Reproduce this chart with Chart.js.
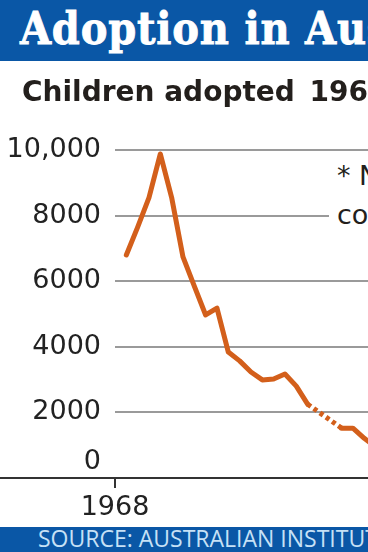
<!DOCTYPE html>
<html><head><meta charset="utf-8">
<script src="https://cdn.jsdelivr.net/npm/chart.js@4.4.1/dist/chart.umd.min.js"></script>
<style>
html,body{margin:0;padding:0;width:368px;height:552px;overflow:hidden;background:#fff;}
#wrap{position:relative;width:368px;height:552px;overflow:hidden;}
#cbox{position:absolute;left:0;top:0;width:368px;height:552px;}
.hdr{position:absolute;left:0;top:0;width:368px;height:61px;background:#0a57a6;overflow:hidden;}
.hdr span{position:absolute;left:20px;top:5px;font-family:"DejaVu Serif Condensed","DejaVu Serif",serif;font-stretch:condensed;font-weight:bold;font-size:44.5px;line-height:46px;letter-spacing:0.8px;color:#fff;-webkit-text-stroke:0.8px #fff;white-space:nowrap;}
.sub{position:absolute;left:22px;top:78px;font-family:"DejaVu Sans",sans-serif;font-weight:bold;font-size:28px;line-height:28px;color:#231f1c;white-space:nowrap;}
.sub b{margin-left:5px;font-weight:bold;}
.note{position:absolute;left:329px;top:156px;padding-left:8px;background:#fff;font-family:"DejaVu Sans",sans-serif;font-size:27px;line-height:39px;color:#231f1c;white-space:nowrap;}
.ftr{position:absolute;left:0;top:527px;width:368px;height:25px;background:#0a57a6;overflow:hidden;}
.ftr span{position:absolute;left:38px;top:0px;font-family:"Open Sans",sans-serif;font-size:23px;line-height:23px;color:#c6e1f6;white-space:nowrap;}
</style></head>
<body>
<div id="wrap">
  <div id="cbox"><canvas id="c"></canvas></div>
  <div class="hdr"><span>Adoption in Australia</span></div>
  <div class="sub">Children adopted <b>1968–2013*</b></div>
  <div class="note">* Not<br>comparable</div>
  <div class="ftr"><span>SOURCE: AUSTRALIAN INSTITUTE OF HEALTH AND WELFARE</span></div>
</div>
<script>
// Data (financial years ending in the given year)
const years   = [1969,1970,1971,1972,1973,1974,1975,1976,1977,1978,1979,1980,1981,1982,1983,1984,1985,1986,1987,1988,1989,1990,1991];
const adopted = [6800,7650,8550,9880,8550,6740,5850,4970,5180,3840,3570,3230,2990,3020,3170,2800,2250,null,null,1520,1520,1210,950];
const yTicks      = [0,2000,4000,6000,8000,10000];
const yTickLabels = ['0','2000','4000','6000','8000','10,000'];
const xTickYears  = [1968];
const xTickLabels = ['1968'];

const lineColor = '#d35f1b';
const labelFont = {family:'DejaVu Sans', size:27};

const axisLine = {
  id:'axisLine',
  afterDraw(chart){
    const ctx = chart.ctx;
    const y = chart.scales.y.getPixelForValue(0);
    ctx.save();
    ctx.strokeStyle = '#333';
    ctx.lineWidth = 2;
    ctx.beginPath();
    ctx.moveTo(0, y);
    ctx.lineTo(chart.width, y);
    ctx.stroke();
    ctx.restore();
  }
};

const gap = ctx => ctx.p0.skip || ctx.p1.skip;

new Chart(document.getElementById('c'), {
  type:'line',
  data:{
    datasets:[{
      data: years.map((yr,i)=>({x:yr, y:adopted[i]})),
      borderColor: lineColor,
      borderWidth: 5,
      pointRadius: 0,
      tension: 0,
      spanGaps: true,
      borderJoinStyle: 'round',
      borderCapStyle: 'round',
      segment:{
        borderDash: ctx => gap(ctx) ? [4,3.5] : undefined,
        borderCapStyle: ctx => gap(ctx) ? 'butt' : undefined
      }
    }]
  },
  options:{
    animation:false,
    responsive:true,
    maintainAspectRatio:false,
    layout:{padding:{top:150,right:0,left:0,bottom:0}},
    plugins:{legend:{display:false}, tooltip:{enabled:false}},
    scales:{
      x:{
        type:'linear', min:1968, max:1990.33,
        afterBuildTicks: s => { s.ticks = xTickYears.map(v=>({value:v})); },
        ticks:{
          callback: v => { const i = xTickYears.indexOf(v); return i>=0 ? xTickLabels[i] : ''; },
          font: labelFont, color:'#222', padding:4, maxRotation:0, autoSkip:false
        },
        grid:{drawOnChartArea:false, drawTicks:true, tickLength:10, color:'#333', lineWidth:2},
        border:{display:false},
        afterFit: s => { s.height = 74; }
      },
      y:{
        min:0, max:10000,
        afterBuildTicks: s => { s.ticks = yTicks.map(v=>({value:v})); },
        ticks:{
          callback: v => { const l = yTickLabels[yTicks.indexOf(v)]; return v===0 ? [l,''] : l; },
          font: labelFont, color:'#222', padding:14, autoSkip:false
        },
        grid:{color:'#9a9a9a', lineWidth:2, drawTicks:false},
        border:{display:false},
        afterFit: s => { s.width = 115; }
      }
    }
  },
  plugins:[axisLine]
});
</script>
</body></html>
